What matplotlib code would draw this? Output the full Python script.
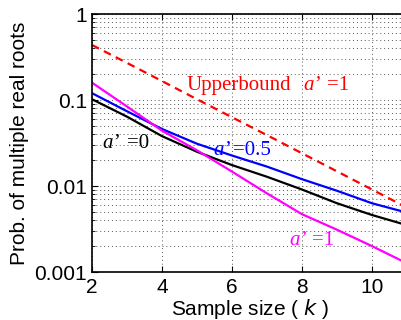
import numpy as np
import matplotlib
matplotlib.use("Agg")
import matplotlib.pyplot as plt
from matplotlib.ticker import FixedLocator, FixedFormatter, LogLocator, NullFormatter

# sample size k
k = [2, 3, 4, 5, 6, 7, 8, 9, 10, 11]

# probabilities
upper_a1 = [0.436, 0.27, 0.166, 0.102, 0.063, 0.039, 0.024, 0.0148, 0.0091, 0.0056]
p_a0 = [0.102, 0.064, 0.038, 0.025, 0.0175, 0.0128, 0.0091, 0.0063, 0.0046, 0.0035]
p_a05 = [0.120, 0.074, 0.046, 0.031, 0.0226, 0.0168, 0.0120, 0.0088, 0.0063, 0.0049]
p_a1 = [0.159, 0.084, 0.044, 0.026, 0.0147, 0.0082, 0.0047, 0.0031, 0.0020, 0.00126]

yticks = [0.001, 0.01, 0.1, 1]
ytick_labels = ["0.001", "0.01", "0.1", "1"]
xticks = [2, 4, 6, 8, 10]

plt.rcParams['font.family'] = ['Liberation Sans', 'DejaVu Sans']

fig = plt.figure(figsize=(4.02, 3.2), dpi=100)
ax = fig.add_axes([92/402, 48/320, 315/402, 258/320])

ax.semilogy(k, upper_a1, color='#ff0000', ls=(0, (3.5, 2.5)), lw=1.6)
ax.semilogy(k, p_a0, color='black', lw=1.6)
ax.semilogy(k, p_a05, color='#0000ff', lw=1.6)
ax.semilogy(k, p_a1, color='#ff00ff', lw=1.6)

ax.set_xlim(2, 11)
ax.set_ylim(0.001, 1)
ax.xaxis.set_major_locator(FixedLocator(xticks))
ax.yaxis.set_major_locator(FixedLocator(yticks))
ax.yaxis.set_major_formatter(FixedFormatter(ytick_labels))
ax.yaxis.set_minor_locator(LogLocator(base=10, subs=np.arange(2, 10)))
ax.yaxis.set_minor_formatter(NullFormatter())

ax.grid(True, which='major', ls=(0, (1, 3)), color='#555555', lw=0.7)
ax.grid(True, which='minor', axis='y', ls=(0, (1, 3)), color='#555555', lw=0.7)
ax.tick_params(which='both', direction='in', labelsize=15, top=True, right=True)
ax.tick_params(which='major', length=4)
ax.tick_params(which='minor', length=2)
ax.tick_params(axis='x', pad=4)
for s in ax.spines.values():
    s.set_linewidth(1.2)

ax.set_xlabel("Sample size ( $k$ )", fontsize=15, labelpad=0)
ax.set_ylabel("Prob. of multiple real roots", fontsize=15, labelpad=4)

serif = ['Liberation Serif', 'DejaVu Serif']
fs = 15
ax.text(4.69, 0.149, "Upperbound", color='#ff0000', fontsize=fs, family=serif, va='center')
ax.text(8.03, 0.149, "a’", color='#ff0000', fontsize=fs, family=serif, style='italic', va='center')
ax.text(8.72, 0.149, "=1", color='#ff0000', fontsize=fs, family=serif, va='center')

ax.text(2.31, 0.0316, "a’", color='black', fontsize=fs, family=serif, style='italic', va='center')
ax.text(3.0, 0.0316, "=0", color='black', fontsize=fs, family=serif, va='center')

ax.text(5.46, 0.026, "a’", color='#0000ff', fontsize=fs, family=serif, style='italic', va='center')
ax.text(6.03, 0.026, "=0.5", color='#0000ff', fontsize=fs, family=serif, va='center')

ax.text(7.63, 0.0023, "a’", color='#ff00ff', fontsize=fs, family=serif, style='italic', va='center')
ax.text(8.29, 0.0023, "=1", color='#ff00ff', fontsize=fs, family=serif, va='center')

fig.savefig("out.png", dpi=100)
